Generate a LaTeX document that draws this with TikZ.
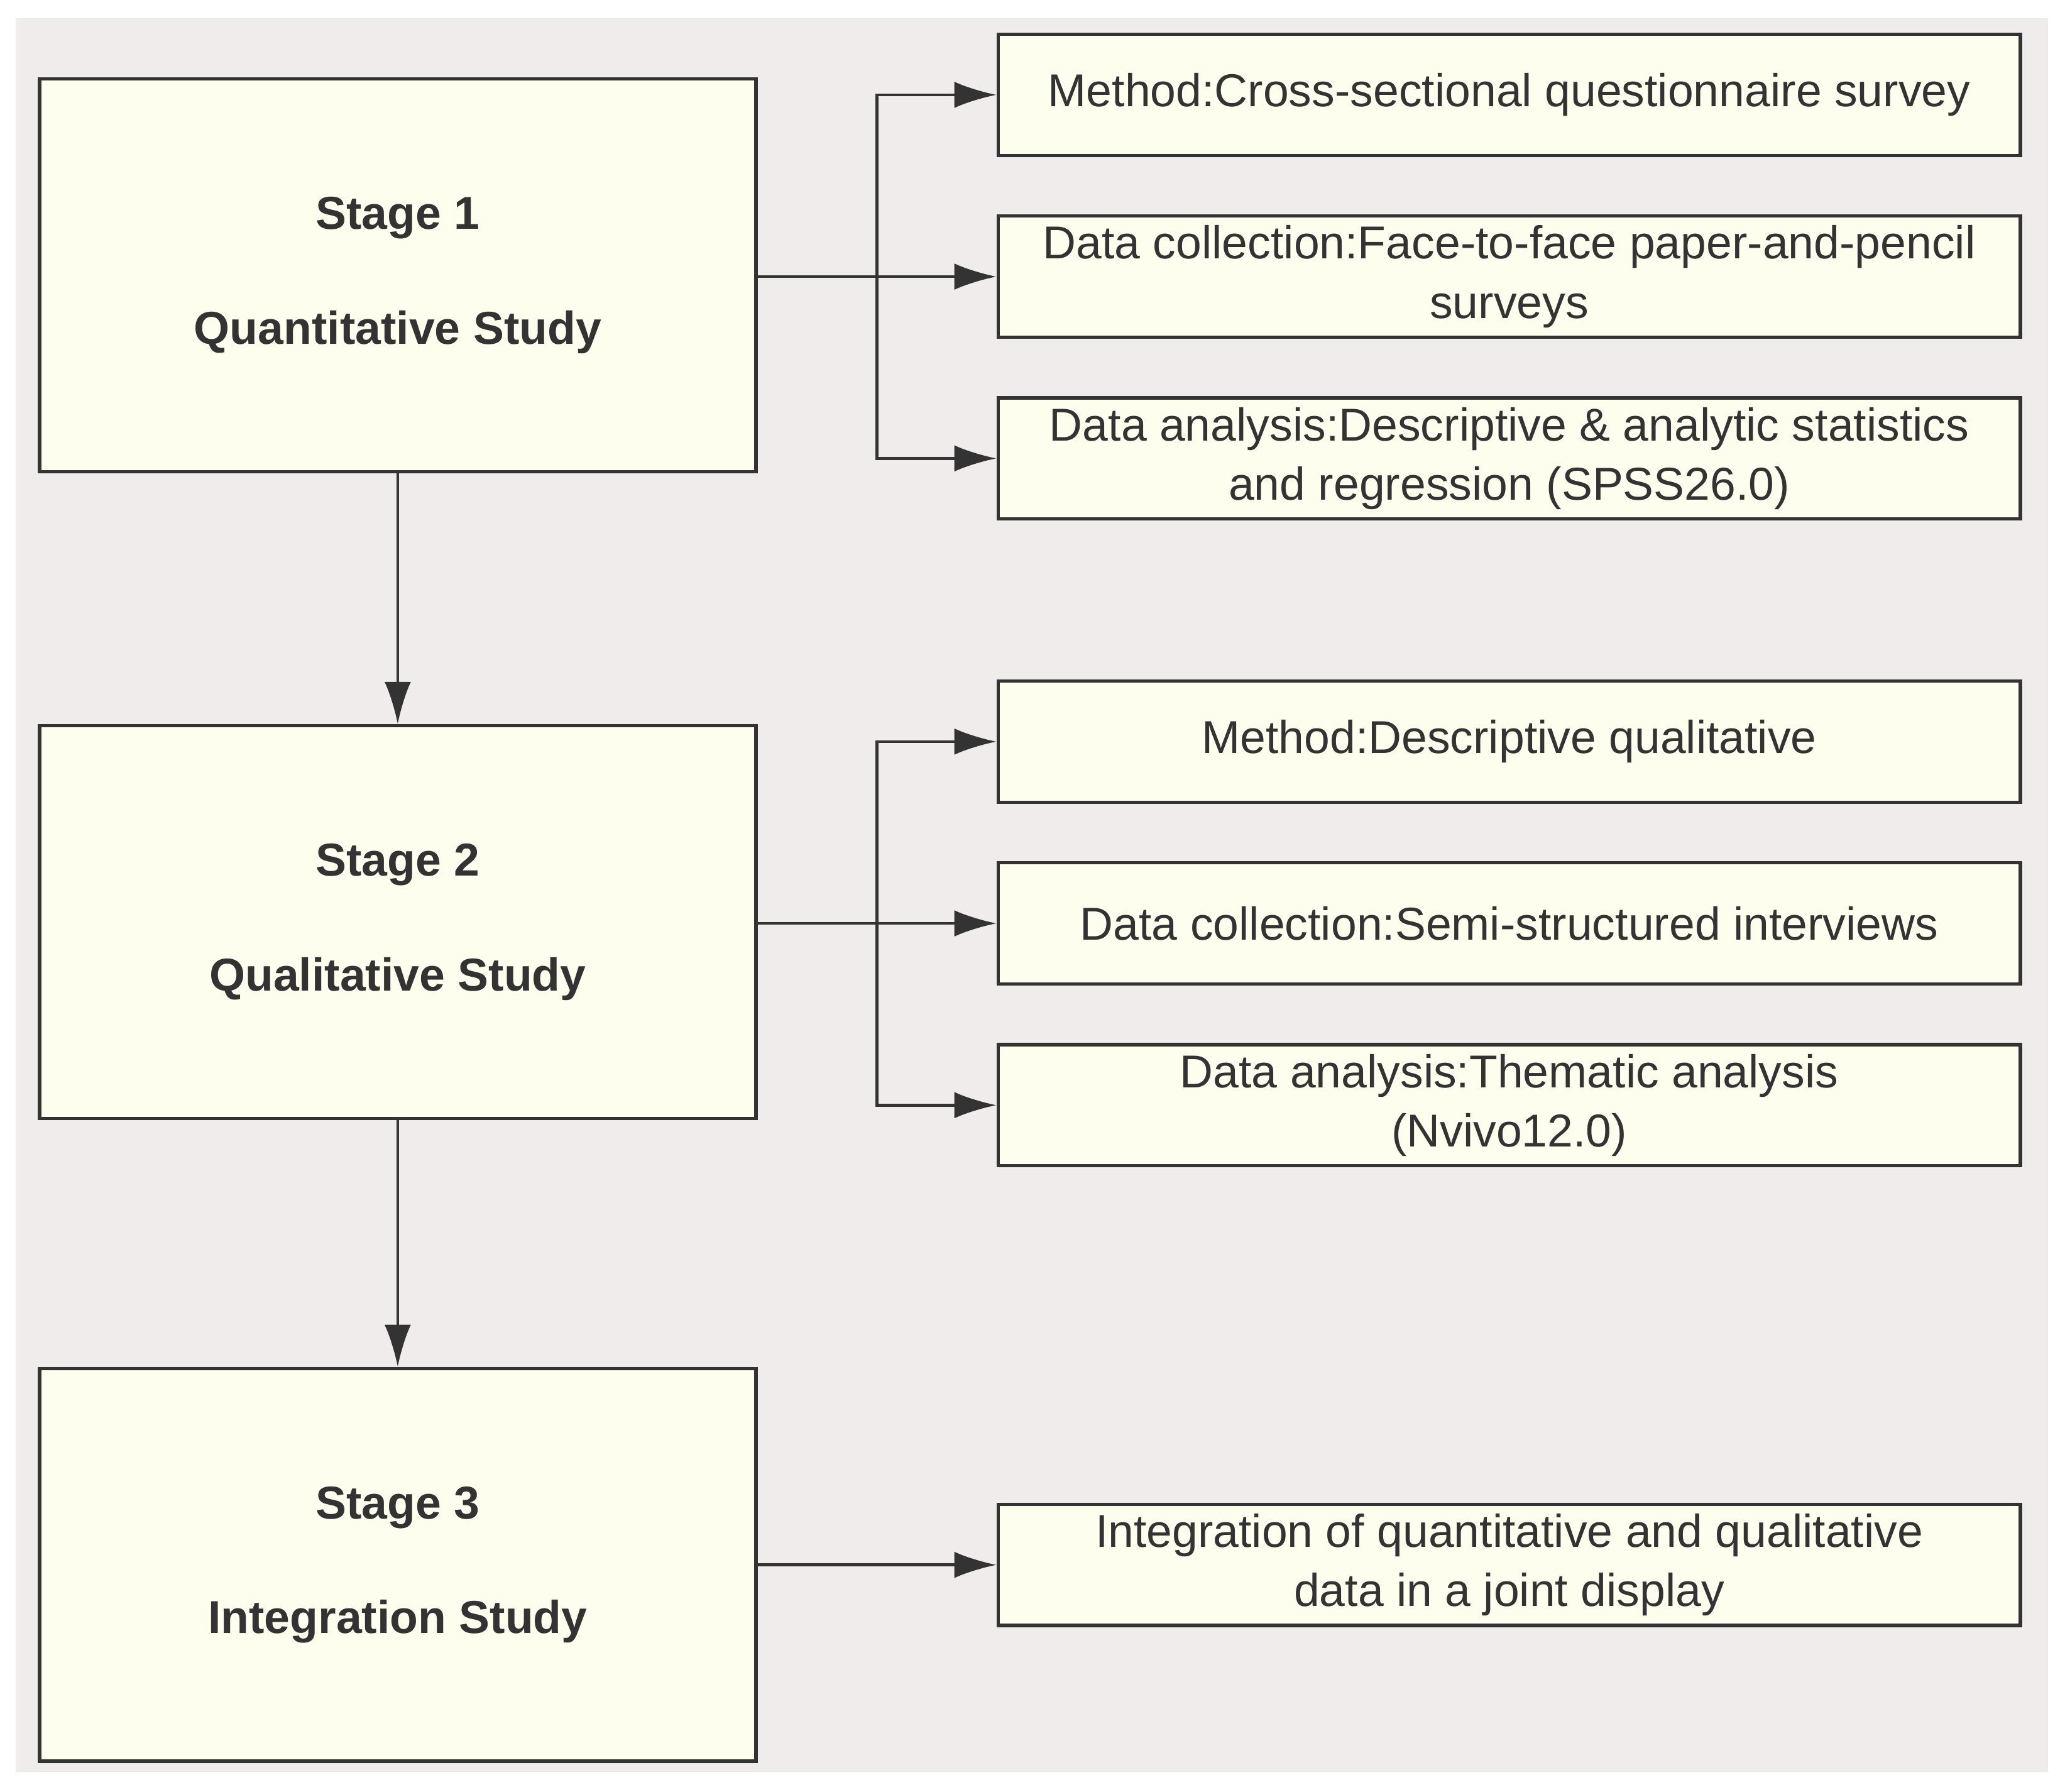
\documentclass[tikz,border=0pt]{standalone}
\usepackage{fontspec}
\setmainfont{Liberation Sans}
\usetikzlibrary{positioning}
\usetikzlibrary{arrows.meta}
\definecolor{boxfill}{HTML}{FEFEEE}
\definecolor{bgcol}{HTML}{F1ECEC}
\definecolor{inkcol}{HTML}{333333}
\begin{document}
\begin{tikzpicture}[x=0.5pt,y=-0.5pt,
stagenode/.style={rectangle, draw=inkcol, fill=boxfill, line width=1.3pt, minimum width=272pt, minimum height=149pt, align=center, font=\fontsize{17.5}{22.5}\selectfont\bfseries, text=inkcol},
detailnode/.style={rectangle, draw=inkcol, fill=boxfill, line width=1.3pt, minimum width=388pt, minimum height=46pt, align=center, font=\fontsize{17.5}{22.5}\selectfont, text=inkcol},
link/.style={draw=inkcol, line width=1.1pt, -{Latex[length=16pt,width=10pt]}},
]
\useasboundingbox (0,0) rectangle (1568,1360);
\fill[bgcol] (12,14) rectangle (1555,1345);
%Nodes
\node[stagenode] (stage1) at (302,209) {Stage 1\\[21pt]Quantitative Study};
\node[stagenode] (stage2) at (302,700) {Stage 2\\[21pt]Qualitative Study};
\node[stagenode] (stage3) at (302,1188) {Stage 3\\[21pt]Integration Study};
\node[detailnode] (method1) at (1146,72) {Method:Cross-sectional questionnaire survey};
\node[detailnode] (collect1) at (1146,210) {Data collection:Face-to-face paper-and-pencil\\surveys};
\node[detailnode] (analysis1) at (1146,348) {Data analysis:Descriptive \& analytic statistics\\and regression (SPSS26.0)};
\node[detailnode] (method2) at (1146,563) {Method:Descriptive qualitative};
\node[detailnode] (collect2) at (1146,701) {Data collection:Semi-structured interviews};
\node[detailnode] (analysis2) at (1146,839) {Data analysis:Thematic analysis\\(Nvivo12.0)};
\node[detailnode] (integ) at (1146,1188) {Integration of quantitative and qualitative\\data in a joint display};
\coordinate (fork1) at (666,210);
\coordinate (fork2) at (666,701);

%Lines
\draw[link] (stage1.south) -- (stage2.north);
\draw[link] (stage2.south) -- (stage3.north);
\draw[link] (stage1.east |- fork1) -- (collect1.west);
\draw[link] (fork1) |- (method1.west);
\draw[link] (fork1) |- (analysis1.west);
\draw[link] (stage2.east |- fork2) -- (collect2.west);
\draw[link] (fork2) |- (method2.west);
\draw[link] (fork2) |- (analysis2.west);
\draw[link] (stage3.east) -- (integ.west);
\end{tikzpicture}
\end{document}
